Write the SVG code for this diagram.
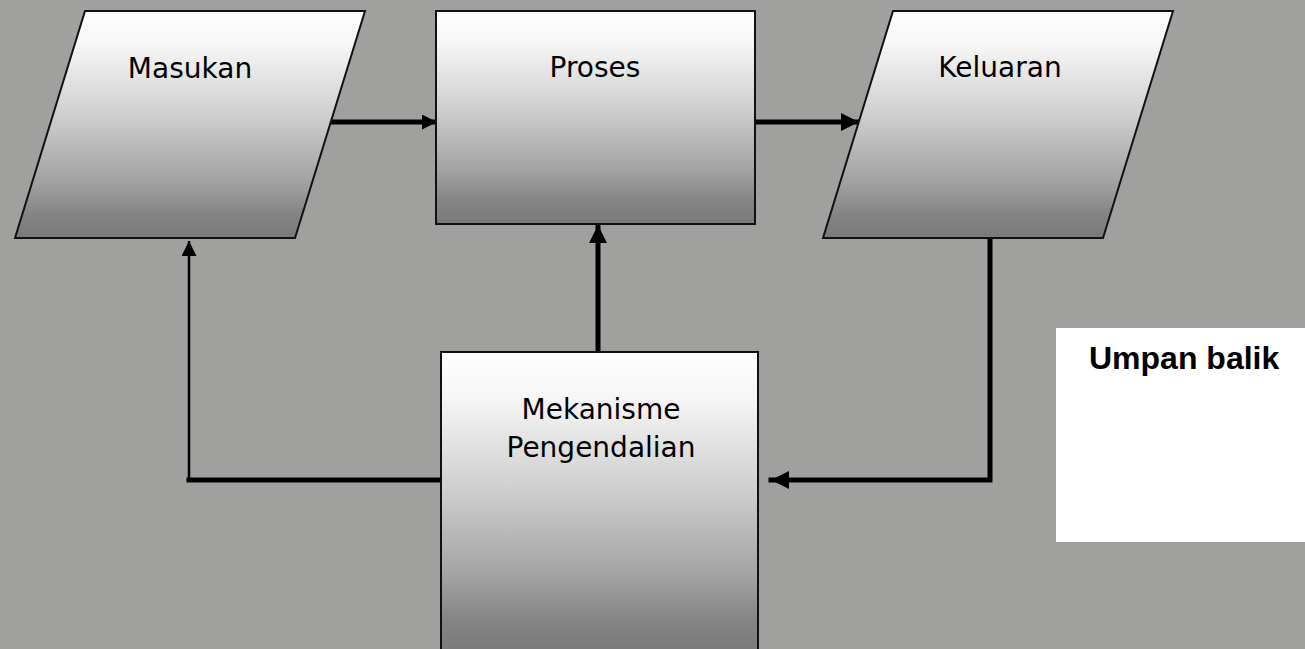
<svg xmlns="http://www.w3.org/2000/svg" width="1305" height="649" viewBox="0 0 1305 649">
  <style>
    .shape { stroke: #111; stroke-width: 2; fill: url(#shade); }
    .label { font-family: "DejaVu Sans", "Liberation Sans", sans-serif; font-size: 28px; fill: #000; text-anchor: middle; }
    .note { font-family: "Liberation Sans", Arial, sans-serif; font-size: 32px; font-weight: bold; fill: #000; }
    .thick { stroke: #000; stroke-width: 5; fill: none; stroke-linejoin: miter; stroke-linecap: square; }
    .thin { stroke: #000; stroke-width: 2.5; fill: none; }
  </style>
  <defs>
    <linearGradient id="shade" x1="0" y1="0" x2="0" y2="1">
      <stop offset="0" stop-color="#ffffff"/>
      <stop offset="0.15" stop-color="#f6f6f6"/>
      <stop offset="0.45" stop-color="#d0d0d0"/>
      <stop offset="0.75" stop-color="#a2a2a2"/>
      <stop offset="0.9" stop-color="#838383"/>
      <stop offset="1" stop-color="#7a7a7a"/>
    </linearGradient>
    <marker id="headBig" markerUnits="userSpaceOnUse" markerWidth="18" markerHeight="18" refX="18" refY="9" orient="auto">
      <path d="M0,0 L18,9 L0,18 Z" fill="#000"/>
    </marker>
    <marker id="headSmall" markerUnits="userSpaceOnUse" markerWidth="15" markerHeight="15" refX="15" refY="7.5" orient="auto">
      <path d="M0,0 L15,7.5 L0,15 Z" fill="#000"/>
    </marker>
  </defs>

  <rect width="1305" height="649" fill="#a0a09e"/>

  <!-- connectors -->
  <g id="connectors">
    <line class="thick" x1="330" y1="122" x2="437" y2="122" stroke-linecap="butt" marker-end="url(#headSmall)"/>
    <line class="thick" x1="755" y1="122" x2="859" y2="122" stroke-linecap="butt" marker-end="url(#headBig)"/>
    <line class="thick" x1="598" y1="352" x2="598" y2="225" stroke-width="6" stroke-linecap="butt" marker-end="url(#headBig)"/>
    <line class="thick" x1="441" y1="480" x2="189" y2="480"/>
    <line class="thin" x1="189" y1="480" x2="189" y2="241" marker-end="url(#headSmall)"/>
    <path class="thick" d="M990,235 V480 H771" stroke-linecap="butt" marker-end="url(#headBig)"/>
  </g>

  <g id="masukan">
    <polygon class="shape" points="85,11 365,11 295,238 15,238"/>
    <text class="label" x="190" y="78">Masukan</text>
  </g>

  <g id="proses">
    <rect class="shape" x="436" y="11" width="319" height="213"/>
    <text class="label" x="595" y="77">Proses</text>
  </g>

  <g id="keluaran">
    <polygon class="shape" points="893,11 1173,11 1103,238 823,238"/>
    <text class="label" x="1000" y="77">Keluaran</text>
  </g>

  <g id="mekanisme">
    <rect class="shape" x="441" y="352" width="317" height="300"/>
    <text class="label" x="601" y="419">Mekanisme</text>
    <text class="label" x="601" y="457">Pengendalian</text>
  </g>

  <g id="umpan-balik">
    <rect x="1056" y="328" width="249" height="214" fill="#ffffff"/>
    <text class="note" x="1089" y="369">Umpan balik</text>
  </g>
</svg>
